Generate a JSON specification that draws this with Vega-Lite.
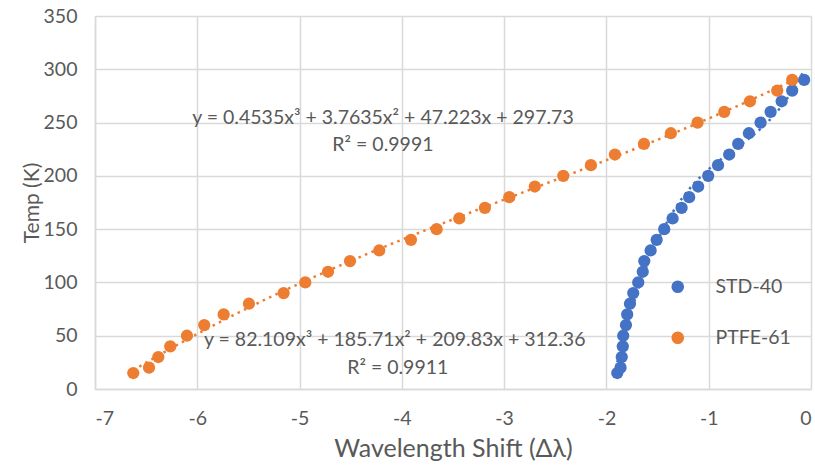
{
  "$schema": "https://vega.github.io/schema/vega-lite/v6.json",
  "autosize": {"type": "none"},
  "width": 716,
  "height": 373,
  "padding": {"left": 95, "top": 16, "right": 4, "bottom": 80},
  "background": "white",
  "config": {
    "view": {"stroke": null},
    "font": "Lato",
    "axis": {
      "gridColor": "#d9d9d9",
      "gridWidth": 1.5,
      "domainColor": "#d9d9d9",
      "domainWidth": 1.5,
      "ticks": false,
      "labelColor": "#595959",
      "labelFont": "Lato",
      "labelFontSize": 19.5,
      "titleColor": "#595959",
      "titleFont": "Lato",
      "titleFontWeight": "normal"
    }
  },
  "datasets": {
    "pts": [
      {"series": "STD-40", "x": -1.894, "y": 15},
      {"series": "STD-40", "x": -1.862, "y": 20},
      {"series": "STD-40", "x": -1.850, "y": 30},
      {"series": "STD-40", "x": -1.840, "y": 40},
      {"series": "STD-40", "x": -1.836, "y": 50},
      {"series": "STD-40", "x": -1.809, "y": 60},
      {"series": "STD-40", "x": -1.797, "y": 70},
      {"series": "STD-40", "x": -1.770, "y": 80},
      {"series": "STD-40", "x": -1.738, "y": 90},
      {"series": "STD-40", "x": -1.689, "y": 100},
      {"series": "STD-40", "x": -1.645, "y": 110},
      {"series": "STD-40", "x": -1.630, "y": 120},
      {"series": "STD-40", "x": -1.568, "y": 130},
      {"series": "STD-40", "x": -1.509, "y": 140},
      {"series": "STD-40", "x": -1.435, "y": 150},
      {"series": "STD-40", "x": -1.353, "y": 160},
      {"series": "STD-40", "x": -1.265, "y": 170},
      {"series": "STD-40", "x": -1.191, "y": 180},
      {"series": "STD-40", "x": -1.103, "y": 190},
      {"series": "STD-40", "x": -1.005, "y": 200},
      {"series": "STD-40", "x": -0.909, "y": 210},
      {"series": "STD-40", "x": -0.800, "y": 220},
      {"series": "STD-40", "x": -0.712, "y": 230},
      {"series": "STD-40", "x": -0.607, "y": 240},
      {"series": "STD-40", "x": -0.493, "y": 250},
      {"series": "STD-40", "x": -0.395, "y": 260},
      {"series": "STD-40", "x": -0.287, "y": 270},
      {"series": "STD-40", "x": -0.184, "y": 280},
      {"series": "STD-40", "x": -0.067, "y": 290},
      {"series": "PTFE-61", "x": -6.626, "y": 15},
      {"series": "PTFE-61", "x": -6.472, "y": 20},
      {"series": "PTFE-61", "x": -6.381, "y": 30},
      {"series": "PTFE-61", "x": -6.264, "y": 40},
      {"series": "PTFE-61", "x": -6.101, "y": 50},
      {"series": "PTFE-61", "x": -5.932, "y": 60},
      {"series": "PTFE-61", "x": -5.742, "y": 70},
      {"series": "PTFE-61", "x": -5.495, "y": 80},
      {"series": "PTFE-61", "x": -5.156, "y": 90},
      {"series": "PTFE-61", "x": -4.944, "y": 100},
      {"series": "PTFE-61", "x": -4.722, "y": 110},
      {"series": "PTFE-61", "x": -4.507, "y": 120},
      {"series": "PTFE-61", "x": -4.221, "y": 130},
      {"series": "PTFE-61", "x": -3.911, "y": 140},
      {"series": "PTFE-61", "x": -3.660, "y": 150},
      {"series": "PTFE-61", "x": -3.439, "y": 160},
      {"series": "PTFE-61", "x": -3.188, "y": 170},
      {"series": "PTFE-61", "x": -2.950, "y": 180},
      {"series": "PTFE-61", "x": -2.700, "y": 190},
      {"series": "PTFE-61", "x": -2.422, "y": 200},
      {"series": "PTFE-61", "x": -2.152, "y": 210},
      {"series": "PTFE-61", "x": -1.917, "y": 220},
      {"series": "PTFE-61", "x": -1.633, "y": 230},
      {"series": "PTFE-61", "x": -1.370, "y": 240},
      {"series": "PTFE-61", "x": -1.109, "y": 250},
      {"series": "PTFE-61", "x": -0.848, "y": 260},
      {"series": "PTFE-61", "x": -0.597, "y": 270},
      {"series": "PTFE-61", "x": -0.330, "y": 280},
      {"series": "PTFE-61", "x": -0.184, "y": 290}
    ],
    "notes": [
      {"x": -4.185, "y": 254, "label": "y = 0.4535x³ + 3.7635x² + 47.223x + 297.73"},
      {"x": -4.185, "y": 229, "label": "R² = 0.9991"},
      {"x": -4.07, "y": 46, "label": "y = 82.109x³ + 185.71x² + 209.83x + 312.36"},
      {"x": -4.04, "y": 20, "label": "R² = 0.9911"}
    ]
  },
  "layer": [
    {
      "data": {"name": "pts"},
      "transform": [
        {"filter": "datum.series === 'STD-40'"},
        {"regression": "y", "on": "x", "method": "poly", "order": 3}
      ],
      "mark": {"type": "line", "strokeWidth": 2.5, "strokeDash": [2.5, 4.5], "color": "#4472C4"},
      "encoding": {
        "x": {"field": "x", "type": "quantitative", "scale": {"domain": [-7, 0], "nice": false},
              "axis": {"values": [-7, -6, -5, -4, -3, -2, -1, 0], "labelExpr": "'' + datum.value", "title": "Wavelength Shift (Δλ)", "titleFontSize": 25, "labelPadding": 20, "titlePadding": 9}},
        "y": {"field": "y", "type": "quantitative", "scale": {"domain": [0, 350], "nice": false},
              "axis": {"values": [0, 50, 100, 150, 200, 250, 300, 350], "title": "Temp (K)", "titleFontSize": 21, "labelPadding": 18, "titlePadding": 1}}
      }
    },
    {
      "data": {"name": "pts"},
      "transform": [
        {"filter": "datum.series === 'PTFE-61'"},
        {"regression": "y", "on": "x", "method": "poly", "order": 3}
      ],
      "mark": {"type": "line", "strokeWidth": 2.5, "strokeDash": [2.5, 4.5], "color": "#ED7D31"},
      "encoding": {
        "x": {"field": "x", "type": "quantitative"},
        "y": {"field": "y", "type": "quantitative"}
      }
    },
    {
      "data": {"name": "pts"},
      "mark": {"type": "circle", "size": 150, "opacity": 1},
      "encoding": {
        "x": {"field": "x", "type": "quantitative"},
        "y": {"field": "y", "type": "quantitative"},
        "color": {"field": "series", "type": "nominal",
                  "scale": {"domain": ["STD-40", "PTFE-61"], "range": ["#4472C4", "#ED7D31"]},
                  "legend": {"title": null, "orient": "none", "legendX": 573, "legendY": 261,
                             "symbolType": "circle", "symbolSize": 160, "symbolOpacity": 1,
                             "labelFontSize": 19.5, "labelColor": "#595959", "labelFont": "Lato",
                             "labelOffset": 28, "rowPadding": 30}}
      }
    },
    {
      "data": {"name": "notes"},
      "mark": {"type": "text", "fontSize": 19.5, "color": "#595959", "font": "Lato", "align": "center", "baseline": "middle"},
      "encoding": {
        "x": {"field": "x", "type": "quantitative"},
        "y": {"field": "y", "type": "quantitative"},
        "text": {"field": "label"}
      }
    }
  ]
}
